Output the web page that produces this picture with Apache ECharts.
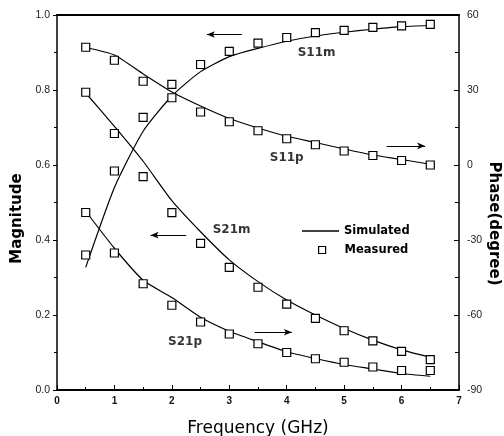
<!DOCTYPE html>
<html>
<head>
    <meta charset="utf-8">
    <script src="https://cdn.jsdelivr.net/npm/echarts@6/dist/echarts.min.js"></script>
    <title>S-parameters</title>
</head>
<body style="margin:0;background:#fff;">
    <div id="main" style="width:504px;height:436px;"></div>
    <script type="text/javascript">
        // frequency points (GHz)
        var freq = [0.5, 1.0, 1.5, 2.0, 2.5, 3.0, 3.5, 4.0, 4.5, 5.0, 5.5, 6.0, 6.5];

        // magnitudes (left axis)
        var s11mSim = [0.327, 0.540, 0.690, 0.784, 0.849, 0.889, 0.911, 0.930, 0.944, 0.954, 0.962, 0.969, 0.972];
        var s11mMeas = [0.360, 0.584, 0.727, 0.815, 0.868, 0.903, 0.925, 0.940, 0.953, 0.959, 0.967, 0.971, 0.975];
        var s21mSim = [0.792, 0.703, 0.610, 0.505, 0.422, 0.347, 0.289, 0.240, 0.200, 0.164, 0.133, 0.107, 0.087];
        var s21mMeas = [0.794, 0.684, 0.569, 0.473, 0.391, 0.327, 0.274, 0.229, 0.191, 0.158, 0.131, 0.103, 0.081];

        // phases in degree (right axis)
        var s11pSim = [47.0, 44.0, 36.4, 29.2, 23.6, 18.6, 14.8, 11.5, 9.0, 6.4, 4.0, 2.2, 0.3];
        var s11pMeas = [47.1, 41.9, 33.5, 26.9, 21.2, 17.3, 13.7, 10.5, 8.1, 5.6, 3.8, 1.8, 0.0];
        var s21pSim = [-18.5, -33.3, -46.1, -53.0, -60.9, -66.5, -70.7, -74.7, -77.4, -79.8, -81.6, -83.4, -84.5];
        var s21pMeas = [-19.0, -35.2, -47.5, -56.1, -62.8, -67.6, -71.5, -75.0, -77.5, -78.9, -80.8, -82.2, -82.2];

        // curve names, placed in magnitude units
        var curveNames = ['S11m', 'S11p', 'S21m', 'S21p'];
        var curveNameX = [4.52, 4.0, 3.04, 2.23];
        var curveNameY = [0.898, 0.619, 0.427, 0.129];

        // arrows: start x, end x (head), level (magnitude units)
        var arrowFrom = [3.22, 5.74, 2.25, 3.44];
        var arrowTo = [2.61, 6.41, 1.63, 4.09];
        var arrowY = [0.948, 0.651, 0.413, 0.154];

        var xTicks = [0, 1, 2, 3, 4, 5, 6, 7];

        function pairs(ys) {
            return freq.map(function(f, i) {
                return [f, ys[i]];
            });
        }

        var myChart = echarts.init(document.getElementById('main'));

        var labelFont = 'DejaVu Sans';
        var tickFont = 'Liberation Sans';

        function simLine(data, yIdx) {
            return {
                name: 'Simulated',
                type: 'line',
                yAxisIndex: yIdx,
                data: pairs(data),
                symbol: 'none',
                smooth: 0.2,
                lineStyle: { color: '#000', width: 1.2 },
                itemStyle: { color: '#000' },
                z: 2
            };
        }

        function measPoints(data, yIdx) {
            return {
                name: 'Measured',
                type: 'scatter',
                yAxisIndex: yIdx,
                data: pairs(data),
                symbol: 'rect',
                symbolSize: 8,
                itemStyle: { color: '#fff', borderColor: '#000', borderWidth: 1.2, opacity: 1 },
                z: 3
            };
        }

        var arrowLines = [];
        for (var i = 0; i < arrowY.length; i++) {
            arrowLines.push([{ coord: [arrowFrom[i], arrowY[i]] }, { coord: [arrowTo[i], arrowY[i]] }]);
        }

        var option = {
            animation: false,
            backgroundColor: '#fff',
            grid: { left: 57, right: 45, top: 15, bottom: 46, outerBoundsMode: 'none', containLabel: false },
            legend: [{
                data: [{ name: 'Simulated', icon: 'rect' }],
                left: 297,
                top: 220,
                itemWidth: 37,
                itemHeight: 1.3,
                itemStyle: { color: '#000', borderWidth: 0 },
                textStyle: { fontFamily: labelFont, fontWeight: 'bold', fontSize: 11.5, color: '#000' }
            }, {
                data: [{ name: 'Measured', icon: 'rect' }],
                left: 313,
                top: 239,
                itemWidth: 7,
                itemHeight: 7,
                itemStyle: { color: '#fff', borderColor: '#000', borderWidth: 1.2 },
                textStyle: { fontFamily: labelFont, fontWeight: 'bold', fontSize: 11.5, color: '#000', padding: [0, 0, 0, 14] }
            }],
            xAxis: [{
                type: 'value',
                min: 0,
                max: 7,
                interval: 1,
                name: 'Frequency (GHz)',
                nameLocation: 'middle',
                nameGap: 30,
                nameTextStyle: { fontFamily: labelFont, fontSize: 17, color: '#000' },
                axisLine: { onZero: false, lineStyle: { color: '#000', width: 2 } },
                axisTick: { inside: true, length: 5, lineStyle: { color: '#000' } },
                minorTick: { show: true, splitNumber: 2, length: 3, lineStyle: { color: '#000' } },
                axisLabel: {
                    margin: 6,
                    fontFamily: tickFont,
                    fontWeight: 'bold',
                    fontSize: 10,
                    color: '#111',
                    formatter: function(v) { return xTicks.indexOf(v) >= 0 ? String(v) : ''; }
                },
                splitLine: { show: false }
            }, {
                type: 'value',
                position: 'top',
                min: 0,
                max: 7,
                axisLine: { onZero: false, lineStyle: { color: '#000', width: 2 } },
                axisTick: { show: false },
                axisLabel: { show: false },
                splitLine: { show: false }
            }],
            yAxis: [{
                type: 'value',
                min: 0,
                max: 1,
                interval: 0.2,
                name: 'Magnitude',
                nameLocation: 'middle',
                nameGap: 32,
                nameMoveOverlap: false,
                nameTextStyle: { fontFamily: labelFont, fontWeight: 'bold', fontSize: 15, color: '#000', padding: [0, 32, 0, 0] },
                axisLine: { show: true, onZero: false, lineStyle: { color: '#000', width: 1.5 } },
                axisTick: { show: true, length: 4, lineStyle: { color: '#000' } },
                minorTick: { show: true, splitNumber: 2, length: 3, lineStyle: { color: '#000' } },
                axisLabel: {
                    margin: 7,
                    fontFamily: tickFont,
                    fontSize: 10.5,
                    color: '#222',
                    formatter: function(v) { return v.toFixed(1); }
                },
                splitLine: { show: false }
            }, {
                type: 'value',
                position: 'right',
                min: -90,
                max: 60,
                interval: 30,
                name: 'Phase(degree)',
                nameLocation: 'middle',
                nameRotate: -90,
                nameGap: 27,
                nameMoveOverlap: false,
                nameTextStyle: { fontFamily: labelFont, fontWeight: 'bold', fontSize: 15, color: '#000', padding: [0, 0, 0, 42] },
                axisLine: { show: true, onZero: false, lineStyle: { color: '#000', width: 1.5 } },
                axisTick: { show: true, inside: true, length: 5, lineStyle: { color: '#000' } },
                minorTick: { show: true, splitNumber: 2, length: 4, lineStyle: { color: '#000' } },
                axisLabel: {
                    margin: 8,
                    fontFamily: tickFont,
                    fontSize: 10.5,
                    color: '#222'
                },
                splitLine: { show: false }
            }],
            series: [
                simLine(s11mSim, 0),
                simLine(s21mSim, 0),
                simLine(s11pSim, 1),
                simLine(s21pSim, 1),
                measPoints(s11mMeas, 0),
                measPoints(s21mMeas, 0),
                measPoints(s11pMeas, 1),
                measPoints(s21pMeas, 1),
                {
                    name: 'names',
                    type: 'scatter',
                    yAxisIndex: 0,
                    silent: true,
                    symbolSize: 0,
                    data: curveNames.map(function(n, i) {
                        return [curveNameX[i], curveNameY[i], n];
                    }),
                    label: {
                        show: true,
                        position: 'inside',
                        formatter: function(p) { return p.data[2]; },
                        fontFamily: labelFont,
                        fontWeight: 'bold',
                        fontSize: 12,
                        color: '#000'
                    },
                    markLine: {
                        silent: true,
                        symbol: ['none', 'arrow'],
                        symbolSize: [5, 8],
                        label: { show: false },
                        lineStyle: { color: '#000', width: 1, type: 'solid' },
                        data: arrowLines
                    }
                }
            ]
        };

        myChart.setOption(option);
    </script>
</body>
</html>
